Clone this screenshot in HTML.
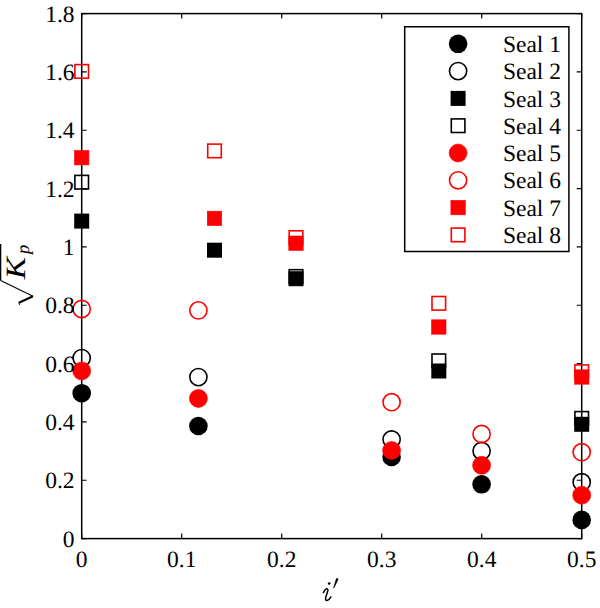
<!DOCTYPE html><html><head><meta charset="utf-8"><style>html,body{margin:0;padding:0;background:#fff;width:600px;height:608px;overflow:hidden}svg{display:block}text{font-family:"Liberation Serif",serif;text-rendering:geometricPrecision}</style></head><body>
<svg width="600" height="608" viewBox="0 0 600 608">
<rect width="600" height="608" fill="#fff"/>
<path d="M81.70 538.60h5M581.70 538.60h-5M81.70 480.27h5M581.70 480.27h-5M81.70 421.93h5M581.70 421.93h-5M81.70 363.60h5M581.70 363.60h-5M81.70 305.27h5M581.70 305.27h-5M81.70 246.93h5M581.70 246.93h-5M81.70 188.60h5M581.70 188.60h-5M81.70 130.27h5M581.70 130.27h-5M81.70 71.93h5M581.70 71.93h-5M81.70 13.60h5M581.70 13.60h-5M81.70 538.60v-5M81.70 13.60v5M181.70 538.60v-5M181.70 13.60v5M281.70 538.60v-5M281.70 13.60v5M381.70 538.60v-5M381.70 13.60v5M481.70 538.60v-5M481.70 13.60v5M581.70 538.60v-5M581.70 13.60v5" stroke="#000" stroke-width="1.2" fill="none"/>
<rect x="81.7" y="13.6" width="500.00000000000006" height="525.0" fill="none" stroke="#000" stroke-width="1.5"/>
<circle cx="81.70" cy="393.20" r="9.3" fill="#000"/>
<circle cx="198.40" cy="426.00" r="9.3" fill="#000"/>
<circle cx="391.60" cy="456.90" r="9.3" fill="#000"/>
<circle cx="481.60" cy="484.30" r="9.3" fill="#000"/>
<circle cx="581.70" cy="519.90" r="9.3" fill="#000"/>
<circle cx="81.70" cy="358.10" r="8.6" fill="none" stroke="#000" stroke-width="1.6"/>
<circle cx="198.40" cy="377.10" r="8.6" fill="none" stroke="#000" stroke-width="1.6"/>
<circle cx="391.60" cy="439.50" r="8.6" fill="none" stroke="#000" stroke-width="1.6"/>
<circle cx="481.60" cy="451.00" r="8.6" fill="none" stroke="#000" stroke-width="1.6"/>
<circle cx="581.70" cy="482.20" r="8.6" fill="none" stroke="#000" stroke-width="1.6"/>
<rect x="74.20" y="213.60" width="15.0" height="15.0" fill="#000"/>
<rect x="207.00" y="242.70" width="15.0" height="15.0" fill="#000"/>
<rect x="288.50" y="271.20" width="15.0" height="15.0" fill="#000"/>
<rect x="431.30" y="363.50" width="15.0" height="15.0" fill="#000"/>
<rect x="574.20" y="416.80" width="15.0" height="15.0" fill="#000"/>
<rect x="74.90" y="175.40" width="13.6" height="13.6" fill="none" stroke="#000" stroke-width="1.6"/>
<rect x="289.20" y="269.70" width="13.6" height="13.6" fill="none" stroke="#000" stroke-width="1.6"/>
<rect x="432.00" y="354.00" width="13.6" height="13.6" fill="none" stroke="#000" stroke-width="1.6"/>
<rect x="574.90" y="411.60" width="13.6" height="13.6" fill="none" stroke="#000" stroke-width="1.6"/>
<circle cx="81.70" cy="370.90" r="9.00" fill="#ff0000" stroke="#ff0000" stroke-width="0.6"/>
<circle cx="198.40" cy="398.40" r="9.00" fill="#ff0000" stroke="#ff0000" stroke-width="0.6"/>
<circle cx="391.60" cy="450.40" r="9.00" fill="#ff0000" stroke="#ff0000" stroke-width="0.6"/>
<circle cx="481.60" cy="465.30" r="9.00" fill="#ff0000" stroke="#ff0000" stroke-width="0.6"/>
<circle cx="581.70" cy="495.20" r="9.00" fill="#ff0000" stroke="#ff0000" stroke-width="0.6"/>
<circle cx="81.70" cy="309.00" r="8.6" fill="none" stroke="#ff0000" stroke-width="1.6"/>
<circle cx="198.40" cy="310.40" r="8.6" fill="none" stroke="#ff0000" stroke-width="1.6"/>
<circle cx="391.60" cy="402.20" r="8.6" fill="none" stroke="#ff0000" stroke-width="1.6"/>
<circle cx="481.60" cy="434.00" r="8.6" fill="none" stroke="#ff0000" stroke-width="1.6"/>
<circle cx="581.70" cy="452.20" r="8.6" fill="none" stroke="#ff0000" stroke-width="1.6"/>
<rect x="74.50" y="150.50" width="14.40" height="14.40" fill="#ff0000" stroke="#ff0000" stroke-width="0.6"/>
<rect x="207.30" y="211.20" width="14.40" height="14.40" fill="#ff0000" stroke="#ff0000" stroke-width="0.6"/>
<rect x="288.80" y="236.00" width="14.40" height="14.40" fill="#ff0000" stroke="#ff0000" stroke-width="0.6"/>
<rect x="431.60" y="319.80" width="14.40" height="14.40" fill="#ff0000" stroke="#ff0000" stroke-width="0.6"/>
<rect x="574.50" y="369.80" width="14.40" height="14.40" fill="#ff0000" stroke="#ff0000" stroke-width="0.6"/>
<rect x="74.90" y="64.60" width="13.6" height="13.6" fill="none" stroke="#ff0000" stroke-width="1.6"/>
<rect x="207.70" y="144.10" width="13.6" height="13.6" fill="none" stroke="#ff0000" stroke-width="1.6"/>
<rect x="289.20" y="230.80" width="13.6" height="13.6" fill="none" stroke="#ff0000" stroke-width="1.6"/>
<rect x="432.00" y="296.50" width="13.6" height="13.6" fill="none" stroke="#ff0000" stroke-width="1.6"/>
<rect x="574.90" y="364.90" width="13.6" height="13.6" fill="none" stroke="#ff0000" stroke-width="1.6"/>
<text x="74.5" y="546.60" font-size="23.5" text-anchor="end">0</text>
<text x="74.5" y="488.27" font-size="23.5" text-anchor="end">0.2</text>
<text x="74.5" y="429.93" font-size="23.5" text-anchor="end">0.4</text>
<text x="74.5" y="371.60" font-size="23.5" text-anchor="end">0.6</text>
<text x="74.5" y="313.27" font-size="23.5" text-anchor="end">0.8</text>
<text x="74.5" y="254.93" font-size="23.5" text-anchor="end">1</text>
<text x="74.5" y="196.60" font-size="23.5" text-anchor="end">1.2</text>
<text x="74.5" y="138.27" font-size="23.5" text-anchor="end">1.4</text>
<text x="74.5" y="79.93" font-size="23.5" text-anchor="end">1.6</text>
<text x="74.5" y="21.60" font-size="23.5" text-anchor="end">1.8</text>
<text x="81.70" y="567" font-size="23.5" text-anchor="middle">0</text>
<text x="181.70" y="567" font-size="23.5" text-anchor="middle">0.1</text>
<text x="281.70" y="567" font-size="23.5" text-anchor="middle">0.2</text>
<text x="381.70" y="567" font-size="23.5" text-anchor="middle">0.3</text>
<text x="481.70" y="567" font-size="23.5" text-anchor="middle">0.4</text>
<text x="581.70" y="567" font-size="23.5" text-anchor="middle">0.5</text>
<rect x="404.7" y="26.75" width="164.2" height="224.75" fill="#fff" stroke="#000" stroke-width="1.5"/>
<circle cx="458.10" cy="43.80" r="9.3" fill="#000"/>
<text x="561" y="51.90" font-size="23.5" text-anchor="end">Seal 1</text>
<circle cx="458.10" cy="71.10" r="8.6" fill="none" stroke="#000" stroke-width="1.6"/>
<text x="561" y="79.20" font-size="23.5" text-anchor="end">Seal 2</text>
<rect x="450.60" y="90.90" width="15.0" height="15.0" fill="#000"/>
<text x="561" y="106.50" font-size="23.5" text-anchor="end">Seal 3</text>
<rect x="451.30" y="118.90" width="13.6" height="13.6" fill="none" stroke="#000" stroke-width="1.6"/>
<text x="561" y="133.80" font-size="23.5" text-anchor="end">Seal 4</text>
<circle cx="458.10" cy="153.00" r="9.00" fill="#ff0000" stroke="#ff0000" stroke-width="0.6"/>
<text x="561" y="161.10" font-size="23.5" text-anchor="end">Seal 5</text>
<circle cx="458.10" cy="180.30" r="8.6" fill="none" stroke="#ff0000" stroke-width="1.6"/>
<text x="561" y="188.40" font-size="23.5" text-anchor="end">Seal 6</text>
<rect x="450.90" y="200.40" width="14.40" height="14.40" fill="#ff0000" stroke="#ff0000" stroke-width="0.6"/>
<text x="561" y="215.70" font-size="23.5" text-anchor="end">Seal 7</text>
<rect x="451.30" y="228.10" width="13.6" height="13.6" fill="none" stroke="#ff0000" stroke-width="1.6"/>
<text x="561" y="243.00" font-size="23.5" text-anchor="end">Seal 8</text>
<path d="M323.4 592.6C324.6 590.2 326 588.6 327.2 588.8C328.3 589 327.9 590.8 327.4 592.3L325.9 596.8C325.3 598.8 325.5 600.7 327 600.6C328.6 600.4 330 598.6 330.9 596.9" fill="none" stroke="#000" stroke-width="1.5" stroke-linecap="round" stroke-linejoin="round"/>
<circle cx="329.2" cy="583.5" r="1.35" fill="#000"/>
<path d="M336.2 578.3C337.2 577.9 338.6 578.4 338.3 579.6L334.1 588.3L333.2 588.0Z" fill="#000"/>
<g transform="translate(24.7,279.3) rotate(-90) scale(1.19,1)"><text x="0" y="0" font-size="28" font-style="italic">K</text></g>
<g transform="translate(29.3,253.9) rotate(-90)"><text x="0" y="0" font-size="18.5" font-style="italic">p</text></g>
<path d="M0.65 244V280.6" stroke="#000" stroke-width="1.3" fill="none"/>
<path d="M0.6 280.4L33.0 296.2" stroke="#000" stroke-width="1.1" fill="none"/>
<path d="M33.0 296.3L18.8 302.8" stroke="#000" stroke-width="2.1" fill="none"/>
<path d="M18.8 302.6L19.6 305" stroke="#000" stroke-width="0.9" fill="none"/>
</svg></body></html>
